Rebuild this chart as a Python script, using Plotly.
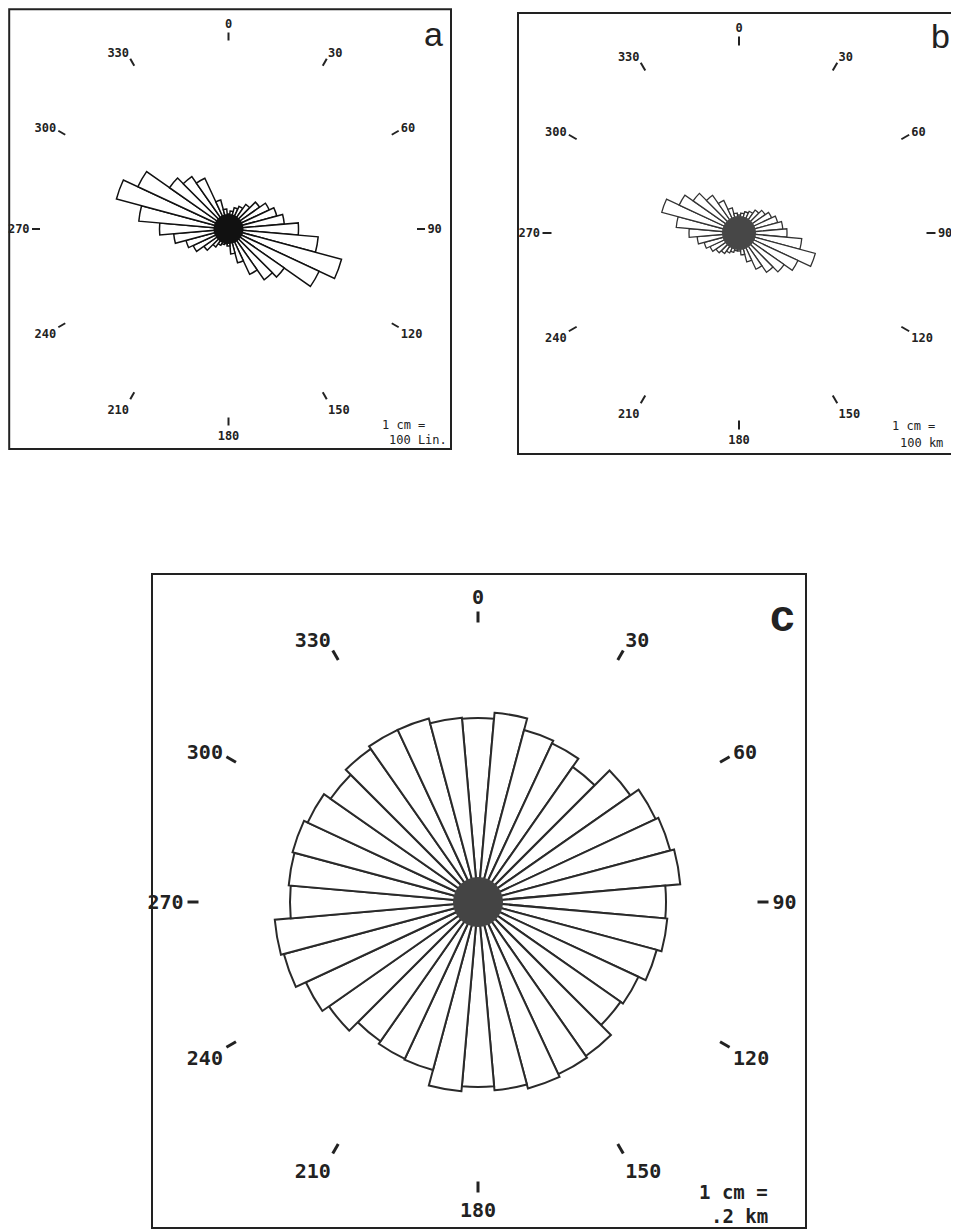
import plotly.graph_objects as go

# The page body adds an 8 px margin, so the figure is drawn 8 px smaller and
# reference pixel positions are shifted by that offset.
OFF = 8
FW, FH = 959 - OFF, 1231 - OFF

# bin centres (degrees, clockwise from north)
directions = list(range(0, 360, 10))

# panel a: lineament counts per 10-degree bin
counts_a = [15, 18, 22, 25, 30, 38, 45, 50, 56, 70, 90, 117,
            100, 68, 62, 50, 35, 25, 17, 15, 16, 18, 22, 30,
            39, 44, 55, 69, 90, 116, 100, 72, 64, 56, 30, 20]
# panel b: lineament length per bin (km)
length_b = [18, 20, 22, 24, 28, 32, 36, 40, 44, 48, 63, 79,
            65, 55, 48, 40, 30, 22, 18, 18, 20, 22, 25, 28,
            32, 36, 42, 50, 63, 80, 66, 56, 46, 36, 26, 20]
# panel c: length per bin (km)
length_c = [184, 190, 178, 175, 165, 186, 196, 199, 203, 188, 190, 185,
            177, 174, 188, 190, 193, 189, 185, 190, 174, 173, 170, 182,
            190, 201, 204, 188, 190, 192, 188, 180, 187, 190, 190, 185]

tick_vals = list(range(0, 360, 30))
tick_text = ["0", "30", "60", "90", "120", "150", "180", "210", "240", "270", "300", "330"]


def px(x):
    return (x - OFF) / FW


def py(y):
    return 1 - (y - OFF) / FH


panels = [
    dict(name="polar", r=counts_a, cx=228.5, cy=229, R=188, ticklen=8, tw=1.5, fs=12,
         lw=1.5, lc="#111111", hub=30, hubc="#111111"),
    dict(name="polar2", r=length_b, cx=739, cy=233, R=187, ticklen=9, tw=1.5, fs=12,
         lw=1.3, lc="#333333", hub=34, hubc="#474747"),
    dict(name="polar3", r=length_c, cx=478, cy=902, R=279, ticklen=11, tw=2.5, fs=20,
         lw=2.0, lc="#2a2a2a", hub=50, hubc="#444444"),
]

fig = go.Figure()
layout = dict(width=FW, height=FH, autosize=False, margin=dict(l=0, r=0, t=0, b=0),
              paper_bgcolor="white", plot_bgcolor="white", showlegend=False)

for p in panels:
    fig.add_trace(go.Barpolar(
        r=p["r"], theta=directions, width=[10] * len(directions),
        marker=dict(color="white", line=dict(color=p["lc"], width=p["lw"])),
        subplot=p["name"], hoverinfo="skip"))
    # dark hub where the petal edges converge
    fig.add_trace(go.Scatterpolar(
        r=[0], theta=[0], mode="markers",
        marker=dict(size=p["hub"], color=p["hubc"], line=dict(width=0)),
        subplot=p["name"], hoverinfo="skip"))
    layout[p["name"]] = dict(
        domain=dict(x=[px(p["cx"] - p["R"]), px(p["cx"] + p["R"])],
                    y=[py(p["cy"] + p["R"]), py(p["cy"] - p["R"])]),
        bgcolor="rgba(0,0,0,0)",
        radialaxis=dict(visible=False, range=[0, p["R"]]),
        angularaxis=dict(rotation=90, direction="clockwise",
                         tickmode="array", tickvals=tick_vals, ticktext=tick_text,
                         showgrid=False, showline=False,
                         ticks="outside", ticklen=p["ticklen"], tickwidth=p["tw"],
                         tickcolor="#222222",
                         tickfont=dict(family="DejaVu Sans Mono", size=p["fs"],
                                       color="#222222", weight="bold")),
    )

fig.update_layout(**layout)

# frames (panel a's top/left edges sit at the very edge of the drawable area)
frames = [(9.2, 9.2, 451, 449), (518, 13, 962, 454), (152, 574, 806, 1228)]
for (l, t, r, b) in frames:
    fig.add_shape(type="rect", xref="paper", yref="paper",
                  x0=px(l), x1=px(r), y0=py(b), y1=py(t),
                  line=dict(color="#222222", width=2))


def ann(text, x, y, size, family="DejaVu Sans Mono", xanchor="left", weight="normal"):
    fig.add_annotation(text=text, x=px(x), y=py(y), xref="paper", yref="paper",
                       showarrow=False, xanchor=xanchor, yanchor="middle",
                       font=dict(family=family, size=size, color="#222222", weight=weight))


# panel letters
ann("a", 433, 34, 34, family="Liberation Sans", xanchor="center")
ann("b", 940, 36, 34, family="Liberation Sans", xanchor="center")
ann("c", 782, 615, 44, family="Liberation Sans", xanchor="center", weight="bold")

# scale notes
ann("1 cm =", 380, 425, 12)
ann("100 Lin.", 387, 440, 12)
ann("1 cm =", 890, 426, 12)
ann("100 km", 898, 443, 12)
ann("1 cm =", 770, 1192, 19, xanchor="right", weight="bold")
ann(".2 km", 770, 1216, 19, xanchor="right", weight="bold")

fig.write_html("out.html")
